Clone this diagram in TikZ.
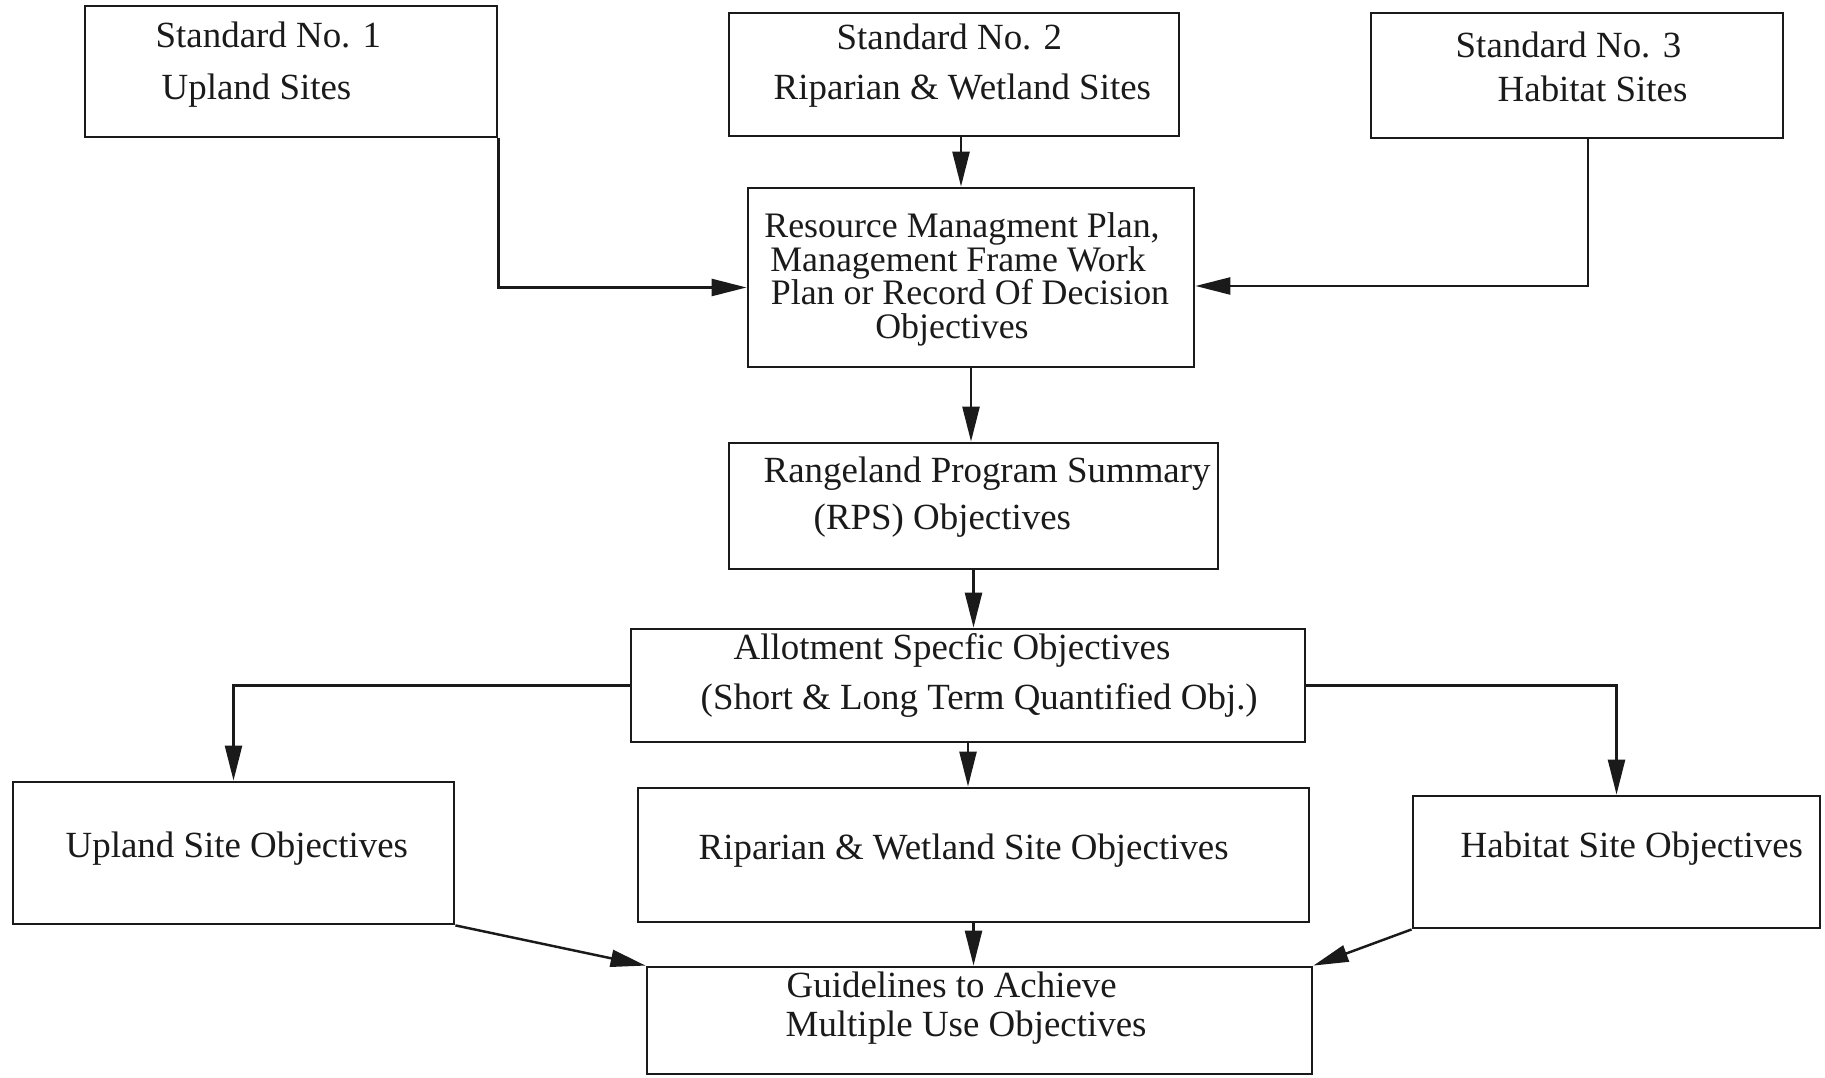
\documentclass[tikz,border=0pt]{standalone}
\usepackage{fontspec}
\setmainfont{Liberation Serif}
\usepackage{xcolor}
\usepackage{tikz}
\usetikzlibrary{arrows.meta,positioning,calc}
\definecolor{scanink}{HTML}{1A1A1A}

\begin{document}
\begin{tikzpicture}[x=1cm,y=1cm,
    stdbox/.style={draw=scanink,line width=0.8pt,rectangle,inner sep=0pt},
    txt/.style={font=\fontsize{10.5}{12}\selectfont,text=scanink,inner sep=0pt,anchor=base west},
    arr/.style={draw=scanink,line width=0.7pt,-{Triangle[length=3.5mm,width=1.7mm]}}]
  \useasboundingbox (0,0) rectangle (18.25,10.77);

  % boxes
  \node[stdbox,minimum width=4.12cm,minimum height=1.31cm] (std1) at (2.91,10.055) {};
  \node[stdbox,minimum width=4.50cm,minimum height=1.23cm] (std2) at (9.54,10.025) {};
  \node[stdbox,minimum width=4.12cm,minimum height=1.25cm] (std3) at (15.77,10.015) {};
  \node[stdbox,minimum width=4.46cm,minimum height=1.79cm] (plan) at (9.71,7.995) {};
  \node[stdbox,minimum width=4.89cm,minimum height=1.26cm] (rps) at (9.735,5.71) {};
  \node[stdbox,minimum width=6.74cm,minimum height=1.13cm] (allot) at (9.68,3.915) {};
  \node[stdbox,minimum width=4.41cm,minimum height=1.42cm] (uplandobj) at (2.335,2.24) {};
  \node[stdbox,minimum width=6.71cm,minimum height=1.34cm] (riparobj) at (9.735,2.22) {};
  \node[stdbox,minimum width=4.07cm,minimum height=1.32cm] (habobj) at (16.165,2.15) {};
  \node[stdbox,minimum width=6.65cm,minimum height=1.07cm] (guide) at (9.795,0.565) {};

  % texts
  \node[txt] (std1a) at (1.55,10.29) {Standard No. 1};
  \node[txt] (std1b) at (1.61,9.77) {Upland Sites};
  \node[txt] (std2a) at (8.36,10.27) {Standard No. 2};
  \node[txt] (std2b) at (7.73,9.77) {Riparian \& Wetland Sites};
  \node[txt] (std3a) at (14.55,10.19) {Standard No. 3};
  \node[txt] (std3b) at (14.97,9.75) {Habitat Sites};
  \node[txt,anchor=base,font=\fontsize{10.2}{11}\selectfont] (plana) at (9.62,8.39) {Resource Managment Plan,};
  \node[txt,anchor=base,font=\fontsize{10.2}{11}\selectfont] (planb) at (9.58,8.055) {Management Frame Work};
  \node[txt,anchor=base,font=\fontsize{10.2}{11}\selectfont] (planc) at (9.70,7.72) {Plan or Record Of Decision};
  \node[txt,anchor=base,font=\fontsize{10.2}{11}\selectfont] (pland) at (9.52,7.385) {Objectives};
  \node[txt] (rpsa) at (7.63,5.94) {Rangeland Program Summary};
  \node[txt] (rpsb) at (8.13,5.47) {(RPS) Objectives};
  \node[txt] (allota) at (7.33,4.17) {Allotment Specfic Objectives};
  \node[txt] (allotb) at (7.00,3.67) {(Short \& Long Term Quantified Obj.)};
  \node[txt] (uplanda) at (0.65,2.19) {Upland Site Objectives};
  \node[txt] (ripara) at (6.98,2.17) {Riparian \& Wetland Site Objectives};
  \node[txt] (haba) at (14.60,2.19) {Habitat Site Objectives};
  \node[txt] (guidea) at (7.86,0.79) {Guidelines to Achieve};
  \node[txt] (guideb) at (7.85,0.40) {Multiple Use Objectives};

  % connectors
  \draw[arr] (std1.south east) |- ($(plan.west)+(0,-0.1)$);
  \draw[arr] ($(std2.south)+(0.07,0)$) -- ($(std2.south |- plan.north)+(0.07,0)$);
  \draw[arr] ($(std3.south)+(0.11,0)$) |- ($(plan.east)+(0,-0.085)$);
  \draw[arr] (plan.south) -- (plan.south |- rps.north);
  \draw[arr] (rps.south) -- (rps.south |- allot.north);
  \draw[arr] (allot.west) -| (uplandobj.north);
  \draw[arr] (allot.east) -| (habobj.north);
  \draw[arr] (allot.south) -- (allot.south |- riparobj.north);
  \draw[arr] (riparobj.south) -- (riparobj.south |- guide.north);
  \draw[arr] (uplandobj.south east) -- (guide.north west);
  \draw[arr] (habobj.south west) -- (guide.north east);
\end{tikzpicture}
\end{document}
